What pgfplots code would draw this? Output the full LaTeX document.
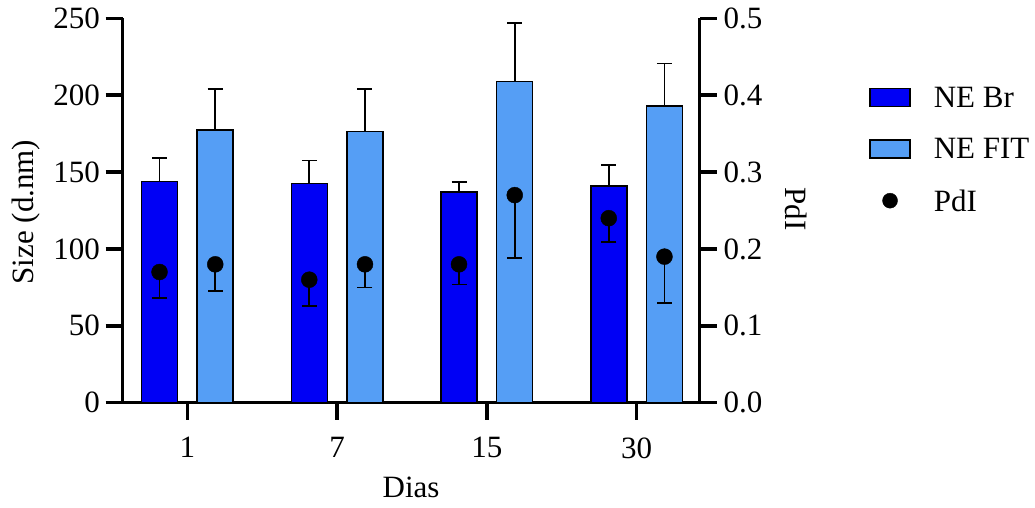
\documentclass[border=0pt]{standalone}
\usepackage{fontspec}
\setmainfont{Liberation Serif}
\usepackage{pgfplots}
\pgfplotsset{compat=1.18}
\definecolor{nebr}{RGB}{0,0,245}
\definecolor{nefit}{RGB}{85,158,245}
\begin{document}
\begin{tikzpicture}[font=\fontsize{31}{37}\selectfont]
\useasboundingbox (0,0) rectangle (1035pt,507pt);
\pgfplotsset{
  base/.style={
    at={(122.7pt,104.3pt)}, anchor=south west,
    scale only axis, width=576.8pt, height=384.4pt,
    xmin=-0.432, xmax=3.42,
    axis line style={line width=3.5pt,-},
    tick style={line width=3.5pt, black},
    major tick length=17pt,
    tick align=outside,
    /pgf/number format/assume math mode=true,
    clip=false,
  },
  barerr/.style={
    error bars/.cd, y dir=plus, y explicit,
    error bar style={line width=1.6pt, black},
    error mark options={rotate=90, mark size=7.5pt, line width=1.6pt, black},
  },
  dotserr/.style={
    error bars/.cd, y dir=minus, y explicit,
    error bar style={line width=1.6pt, black},
    error mark options={rotate=90, mark size=7.5pt, line width=1.6pt, black},
  },
}
\begin{axis}[base,
  ymin=0, ymax=250,
  axis x line*=bottom, axis y line*=left,
  xtick={0,1,2,3}, xticklabels={1,7,15,30},
  ytick={0,50,100,150,200,250},
  xticklabel style={anchor=north, inner sep=0pt, yshift=-17.5pt},
  yticklabel style={anchor=east, inner sep=0pt, xshift=-5.7pt},
  xlabel={Dias}, ylabel={Size (d.nm)},
  every axis x label/.style={at={(axis description cs:0.5,-0.2206)}, anchor=center, inner sep=0pt},
  every axis y label/.style={at={(axis description cs:-0.167,0.496)}, anchor=center, rotate=90, inner sep=0pt},
  legend style={at={(axis description cs:1.294,0.821)}, anchor=north west, draw=none, fill=none,
    inner sep=0pt, row sep=31pt, column sep=23pt, nodes={inner sep=0pt, text depth=0pt}},
  legend cell align=left,
]
\addplot[ybar, bar width=36pt, bar shift=0pt, fill=nebr, draw=black, line width=1.5pt,
  legend image code/.code={\draw[fill=nebr, draw=black, line width=1.5pt] (0pt,-9pt) rectangle (40pt,9pt);},
  barerr] table[x=x, y=y, y error=e] {
x y e
-0.186 144 15
0.814 142.5 15
1.814 137 6.5
2.814 141 13.5
};
\addlegendentry{NE Br}
\addplot[ybar, bar width=36pt, bar shift=0pt, fill=nefit, draw=black, line width=1.5pt,
  legend image code/.code={\draw[fill=nefit, draw=black, line width=1.5pt] (0pt,-9pt) rectangle (40pt,9pt);},
  barerr] table[x=x, y=y, y error=e] {
x y e
0.186 177.5 26.5
1.186 176.5 27.5
2.186 209 38
3.186 193 27.5
};
\addlegendentry{NE FIT}
\addlegendimage{legend image code/.code={\fill[black] (20pt,0pt) circle (7.5pt);}}
\addlegendentry{PdI}
\end{axis}
\begin{axis}[base,
  ymin=0, ymax=0.5,
  axis x line=none, axis y line*=right,
  ytick={0,0.1,0.2,0.3,0.4,0.5},
  yticklabel style={anchor=west, inner sep=0pt, xshift=6.8pt,
    /pgf/number format/fixed, /pgf/number format/fixed zerofill, /pgf/number format/precision=1},
  ylabel={PdI},
  every axis y label/.style={at={(axis description cs:1.167,0.504)}, anchor=center, rotate=-90, inner sep=0pt},
]
\addplot[only marks, mark=*, mark size=8pt, black, dotserr] table[x=x, y=y, y error minus=e] {
x y e
-0.186 0.17 0.034
0.814 0.16 0.034
1.814 0.18 0.026
2.814 0.24 0.031
};
\addplot[only marks, mark=*, mark size=8pt, black, dotserr] table[x=x, y=y, y error minus=e] {
x y e
0.186 0.18 0.035
1.186 0.18 0.030
2.186 0.27 0.082
3.186 0.19 0.060
};
\end{axis}
\end{tikzpicture}
\end{document}
